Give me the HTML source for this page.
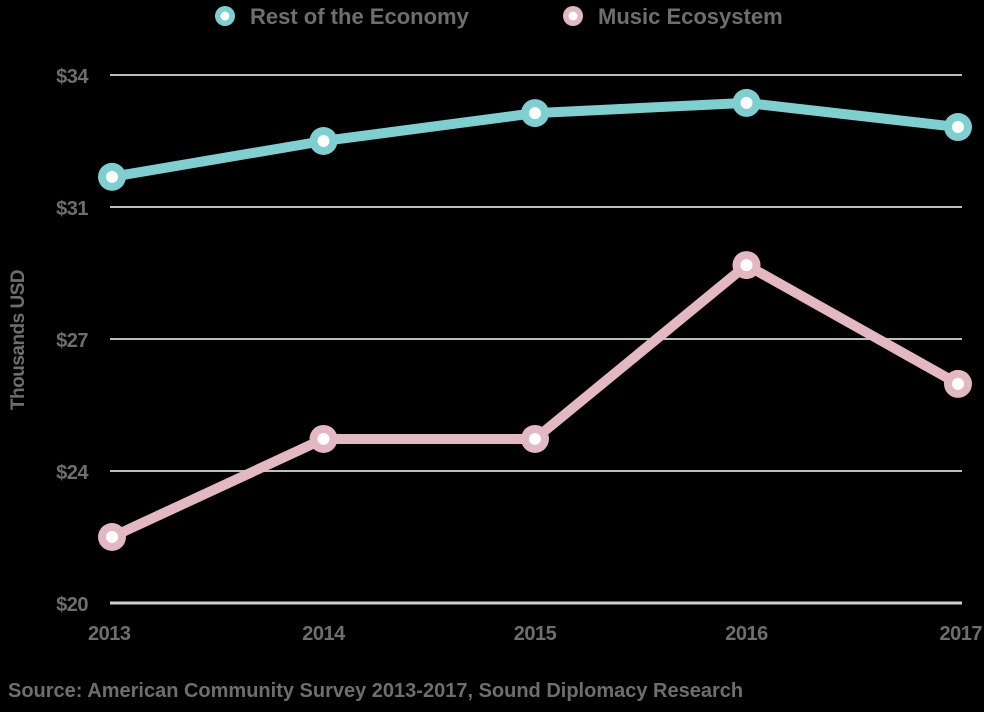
<!DOCTYPE html>
<html><head><meta charset="utf-8"><style>
html,body{margin:0;padding:0;background:#000;}
svg{display:block;font-family:"Liberation Sans",sans-serif;font-weight:bold;}
</style></head><body>
<svg id="chart" width="984" height="712">
<g id="grid"></g><g id="series"></g>
<g>
<g><circle cx="225" cy="16" r="10" fill="#7dcfd0"/><circle cx="225" cy="16" r="4.5" fill="#fff"/><text x="250" y="24" font-size="22" fill="#6e6e6e">Rest of the Economy</text></g>
<g><circle cx="573" cy="16" r="10" fill="#e3b8c3"/><circle cx="573" cy="16" r="4.5" fill="#fff"/><text x="598" y="24" font-size="22" fill="#6e6e6e">Music Ecosystem</text></g>
</g>
<text transform="translate(24,340) rotate(-90)" text-anchor="middle" font-size="19" fill="#6e6e6e" letter-spacing="-0.5">Thousands USD</text>
<text x="8" y="697" font-size="20" fill="#6e6e6e">Source: American Community Survey 2013-2017, Sound Diplomacy Research</text>
</svg>
<script>
const years=["2013","2014","2015","2016","2017"];
const restValues=[31.3,32.25,32.99,33.26,32.62];
const musicValues=[21.75,24.35,24.35,28.96,25.81];
const tickValues=[20,23.5,27,30.5,34];
const tickLabels=["$20","$24","$27","$31","$34"];
const ns="http://www.w3.org/2000/svg";
const x=i=>112+i*211.5;
const y=v=>603-(v-20)*(528/14);
const grid=document.getElementById('grid'),ser=document.getElementById('series');
function mk(t,a,p){const e=document.createElementNS(ns,t);for(const k in a)e.setAttribute(k,a[k]);p.appendChild(e);return e;}
tickValues.forEach((v,i)=>{
 const l=mk('line',{x1:110,x2:962,y1:y(v),y2:y(v),stroke:i==0?'#cfcfcf':'#bdbdbd','stroke-width':i==0?3:2},grid);
 
 
 const t=mk('text',{x:88,y:y(v)+8,'text-anchor':'end','font-size':20,fill:'#6e6e6e','letter-spacing':'-0.5'},grid);
 t.textContent=tickLabels[i];
 
 
});
years.forEach((yr,i)=>{
 const t=mk('text',{x:x(i),y:640,'text-anchor':i==0?'start':i==4?'end':'middle','font-size':20,fill:'#6e6e6e','letter-spacing':'-0.5'},grid);
 if(i==0)t.setAttribute('x',x(i)-24); if(i==4)t.setAttribute('x',x(i)+24);
 t.textContent=yr;
 
 
});
function series(vals,col,name){
 const p=mk('polyline',{points:vals.map((v,i)=>x(i)+','+y(v)).join(' '),fill:'none',stroke:col,'stroke-width':10,'stroke-linejoin':'round'},ser);
 
 
 vals.forEach((v,i)=>{
  const c=mk('circle',{cx:x(i),cy:y(v),r:14,fill:col},ser);
  
  
  mk('circle',{cx:x(i),cy:y(v),r:6,fill:'#fff'},ser);
 });
}
series(restValues,'#7dcfd0','rest-economy');
series(musicValues,'#e3b8c3','music-ecosystem');
</script>
</body></html>
